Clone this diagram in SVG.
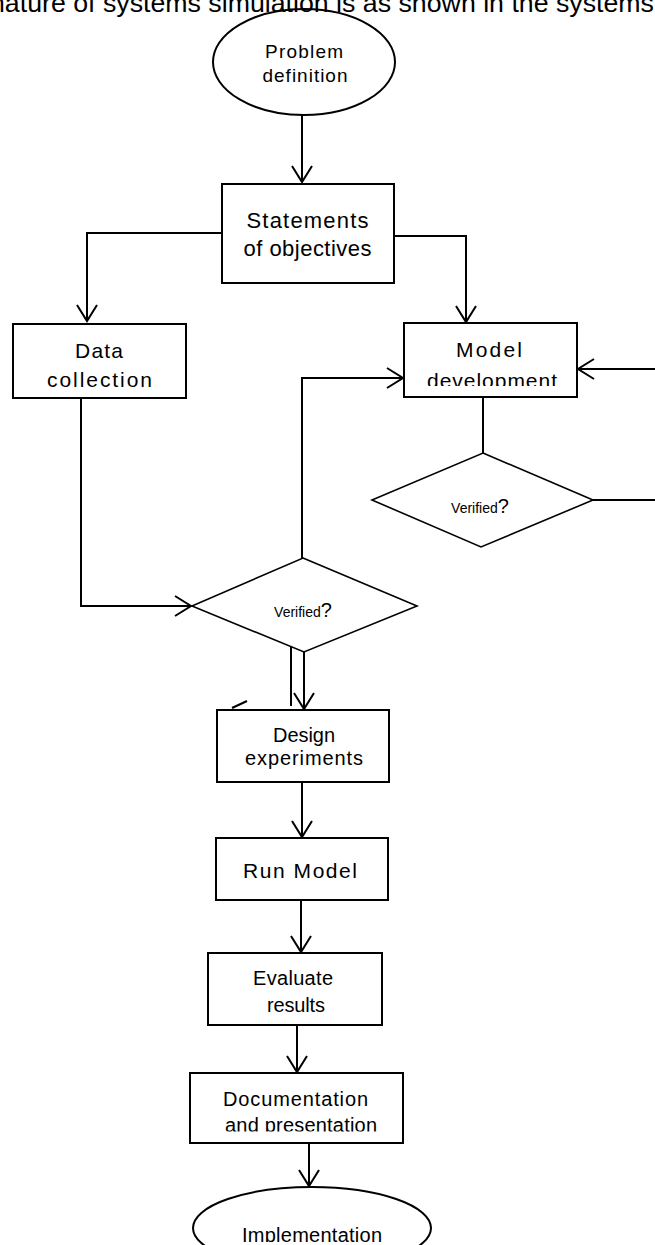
<svg xmlns="http://www.w3.org/2000/svg" width="655" height="1245" viewBox="0 0 655 1245">
<style>
.n{fill:#fff;stroke:#000;stroke-width:2}
.d{fill:#fff;stroke:#000;stroke-width:1.6}
.t{font-family:"Liberation Sans",Arial,sans-serif;fill:#000;text-anchor:middle}
.c{fill:none;stroke:#000;stroke-width:2}
</style>
<defs>
<marker id="a" viewBox="-18 -12 20 24" refX="0" refY="0" markerWidth="20" markerHeight="24" markerUnits="userSpaceOnUse" orient="auto">
<path d="M-16,-10 L0,0 L-16,10" fill="none" stroke="#000" stroke-width="2"/>
</marker>
<clipPath id="cm"><rect x="400" y="320" width="180" height="66"/></clipPath>
<clipPath id="cd"><rect x="185" y="1070" width="220" height="61.5"/></clipPath>
<clipPath id="ci"><rect x="190" y="1180" width="250" height="62"/></clipPath>
</defs>
<g id="connectors">
<path class="c" d="M302,115 V182" marker-end="url(#a)"/>
<path class="c" d="M222,233 H87 V321" marker-end="url(#a)"/>
<path class="c" d="M394,236 H466 V322" marker-end="url(#a)"/>
<path class="c" d="M81,398 V606 H191" marker-end="url(#a)"/>
<path class="c" d="M302,558 V378 H403" marker-end="url(#a)"/>
<path class="c" d="M483,397 V453"/>
<path class="c" d="M593,500 H665 V369 H578" marker-end="url(#a)"/>
<path class="c" d="M304,652 V709" marker-end="url(#a)"/>
<path class="c" d="M291,647 V706"/>
<path class="c" d="M232,708 L247,701"/>
<path class="c" d="M302,782 V837" marker-end="url(#a)"/>
<path class="c" d="M301,900 V952" marker-end="url(#a)"/>
<path class="c" d="M297,1025 V1072" marker-end="url(#a)"/>
<path class="c" d="M309,1143 V1186" marker-end="url(#a)"/>
</g>
<g id="problem">
<ellipse class="n" cx="304" cy="62" rx="91" ry="53"/>
<text class="t" x="304" y="58" font-size="19" textLength="78" lengthAdjust="spacing">Problem</text>
<text class="t" x="305" y="82" font-size="19" textLength="85" lengthAdjust="spacing">definition</text>
</g>
<g id="statements">
<rect class="n" x="222" y="184" width="172" height="99"/>
<text class="t" x="307.5" y="228" font-size="22" textLength="122" lengthAdjust="spacing">Statements</text>
<text class="t" x="307.5" y="256" font-size="22" textLength="128" lengthAdjust="spacing">of objectives</text>
</g>
<g id="data">
<rect class="n" x="13" y="324" width="173" height="74"/>
<text class="t" x="99" y="358" font-size="21" textLength="48" lengthAdjust="spacing">Data</text>
<text class="t" x="99.5" y="387" font-size="21" textLength="105" lengthAdjust="spacing">collection</text>
</g>
<g id="model">
<rect class="n" x="404" y="323" width="173" height="74"/>
<g clip-path="url(#cm)">
<text class="t" x="489" y="357" font-size="21" textLength="66" lengthAdjust="spacing">Model</text>
<text class="t" x="492" y="388" font-size="21" textLength="130" lengthAdjust="spacing">development</text>
</g>
</g>
<g id="verified1">
<polygon class="d" points="483,453 593,500 481,547 372,500"/>
<text class="t" x="480" y="513"><tspan font-size="14">Verified</tspan><tspan font-size="20">?</tspan></text>
</g>
<g id="verified2">
<polygon class="d" points="303,558 417,606 304,652 192,606"/>
<text class="t" x="303" y="617"><tspan font-size="14">Verified</tspan><tspan font-size="20">?</tspan></text>
</g>
<g id="design">
<rect class="n" x="217" y="710" width="172" height="72"/>
<text class="t" x="304" y="742" font-size="20" textLength="62" lengthAdjust="spacing">Design</text>
<text class="t" x="304" y="765" font-size="20" textLength="118" lengthAdjust="spacing">experiments</text>
</g>
<g id="run">
<rect class="n" x="216" y="838" width="172" height="62"/>
<text class="t" x="300" y="878" font-size="21" textLength="114" lengthAdjust="spacing">Run Model</text>
</g>
<g id="evaluate">
<rect class="n" x="208" y="953" width="174" height="72"/>
<text class="t" x="293" y="985" font-size="20" textLength="80" lengthAdjust="spacing">Evaluate</text>
<text class="t" x="296" y="1012" font-size="20" textLength="58" lengthAdjust="spacing">results</text>
</g>
<g id="documentation">
<rect class="n" x="190" y="1073" width="213" height="70"/>
<g clip-path="url(#cd)">
<text class="t" x="295.5" y="1106" font-size="20" textLength="145" lengthAdjust="spacing">Documentation</text>
<text class="t" x="301" y="1132" font-size="20" textLength="152" lengthAdjust="spacing">and presentation</text>
</g>
</g>
<g id="implementation">
<ellipse class="n" cx="312" cy="1228" rx="119" ry="41"/>
<g clip-path="url(#ci)">
<text class="t" x="312" y="1242" font-size="20" textLength="140" lengthAdjust="spacing">Implementation</text>
</g>
</g>
<text class="t" x="-10" y="12" font-size="25" style="text-anchor:start" textLength="664" lengthAdjust="spacingAndGlyphs">nature of systems simulation is as shown in the systems</text>
</svg>
